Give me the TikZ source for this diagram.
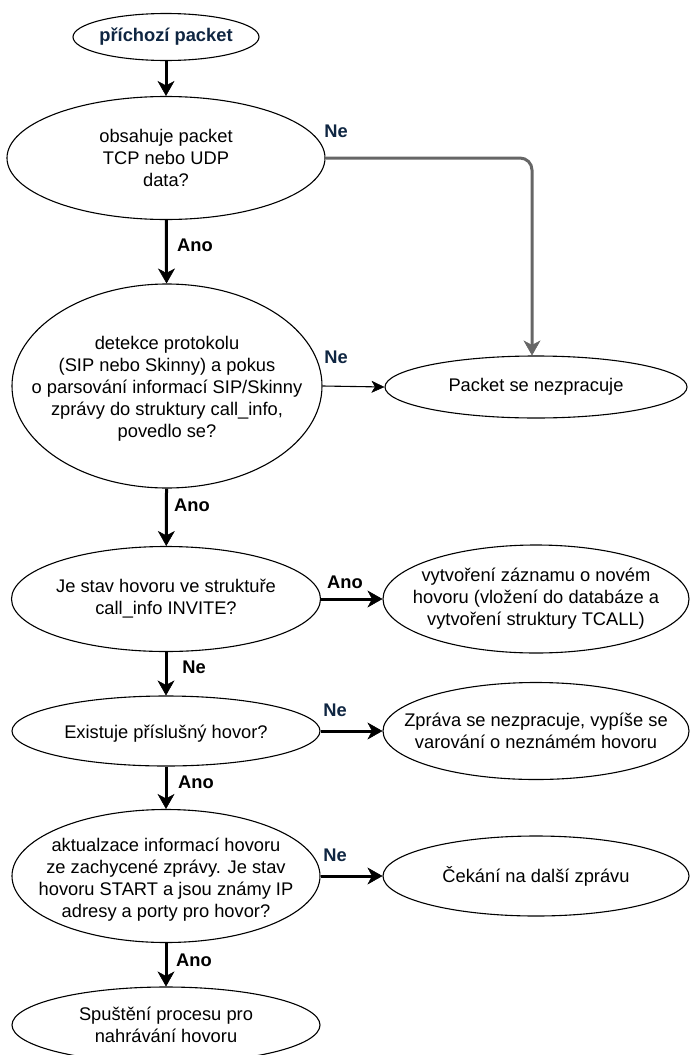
\documentclass[tikz,border=0pt]{standalone}
\usepackage{fontspec}
\setmainfont{Liberation Sans}
\usetikzlibrary{arrows.meta,shapes.geometric}
\definecolor{navy}{HTML}{0F2642}
\definecolor{edgegray}{HTML}{666666}
\begin{document}
\begin{tikzpicture}[x=1pt,y=-1pt,
  every node/.style={font=\fontsize{18.3}{22}\selectfont},
  box/.style={ellipse,draw=black,line width=1.1pt,fill=white,inner sep=0pt},
  txt/.style={align=center,inner sep=0pt},
  flow/.style={line width=3pt,-{Stealth[length=15pt,width=17pt,inset=4.5pt,line width=0.5pt]}},
  thinflow/.style={line width=1.1pt,-{Stealth[length=13pt,width=12pt,inset=3.5pt,line width=0.5pt]}},
  grayflow/.style={flow,draw=edgegray,rounded corners=12pt},
  lab/.style={font=\bfseries\fontsize{18.3}{22}\selectfont,inner sep=0pt},
  labn/.style={lab,text=navy}
]
\fill[white] (0,0) rectangle (689,1055);
\useasboundingbox (0,0) rectangle (689,1055);

% left column
\node[box,minimum width=186pt,minimum height=47pt] (start) at (166,37) {};
\node[txt,font=\bfseries\fontsize{18.3}{22}\selectfont,text=navy] (startt) at (start) {příchozí packet};

\node[box,minimum width=318pt,minimum height=123pt] (q1) at (166,158) {};
\node[txt] (q1t) at (q1) {obsahuje packet\\TCP nebo UDP\\data?};

\node[box,minimum width=310pt,minimum height=204pt] (q2) at (167,386) {};
\node[txt] (q2t) at ([yshift=-3pt]q2.center) {detekce protokolu\\(SIP nebo Skinny) a pokus\\o parsování informací SIP/Skinny\\zprávy do struktury call\_info,\\povedlo se?};

\node[box,minimum width=309pt,minimum height=105pt] (q3) at (166,599) {};
\node[txt] (q3t) at (q3) {Je stav hovoru ve struktuře\\call\_info INVITE?};

\node[box,minimum width=308pt,minimum height=70pt] (q4) at (166,731) {};
\node[txt] (q4t) at ([yshift=-3pt]q4.center) {Existuje příslušný hovor?};

\node[box,minimum width=308pt,minimum height=133pt] (q5) at (166,876) {};
\node[txt] (q5t) at ([yshift=-4pt]q5.center) {aktualzace informací hovoru\\ze zachycené zprávy. Je stav\\hovoru START a jsou známy IP\\adresy a porty pro hovor?};

\node[box,minimum width=308pt,minimum height=76pt] (rec) at (166,1025) {};
\node[txt] (rect) at (rec) {Spuštění procesu pro\\nahrávání hovoru};

% right column
\node[box,minimum width=302pt,minimum height=62pt] (nop) at (536,387) {};
\node[txt] (nopt) at (nop) {Packet se nezpracuje};

\node[box,minimum width=306pt,minimum height=108pt] (create) at (536,599) {};
\node[txt] (createt) at (create) {vytvoření záznamu o novém\\hovoru (vložení do databáze a\\vytvoření struktury TCALL)};

\node[box,minimum width=306pt,minimum height=97pt] (warn) at (536,731) {};
\node[txt] (warnt) at (warn) {Zpráva se nezpracuje, vypíše se\\varování o neznámém hovoru};

\node[box,minimum width=306pt,minimum height=80pt] (wait) at (536,876) {};
\node[txt] (waitt) at (wait) {Čekání na další zprávu};

% connectors
\draw[flow] (start) -- (q1);
\draw[flow] (q1) -- (q2);
\draw[flow] (q2) -- (q3);
\draw[flow] (q3) -- (q4);
\draw[flow] (q4) -- (q5);
\draw[flow] (q5) -- (rec);
\draw[grayflow] (q1.east) -| ([xshift=-4pt]nop.north);
\draw[thinflow] (q2.east) -- (nop.west);
\draw[flow] (q3.east) -- (create.west);
\draw[flow] (q4.east) -- (warn.west);
\draw[flow] (q5.east) -- (wait.west);

% labels
\node[labn] (l1) at (336,131) {Ne};
\node[lab] (l2) at (195,245) {Ano};
\node[labn] (l3) at (336,357) {Ne};
\node[lab] (l4) at (192,505) {Ano};
\node[lab] (l5) at (345,582) {Ano};
\node[lab] (l6) at (194,667) {Ne};
\node[labn] (l7) at (335,710) {Ne};
\node[lab] (l8) at (196,782) {Ano};
\node[labn] (l9) at (335,855) {Ne};
\node[lab] (l10) at (194,960) {Ano};
\end{tikzpicture}
\end{document}
